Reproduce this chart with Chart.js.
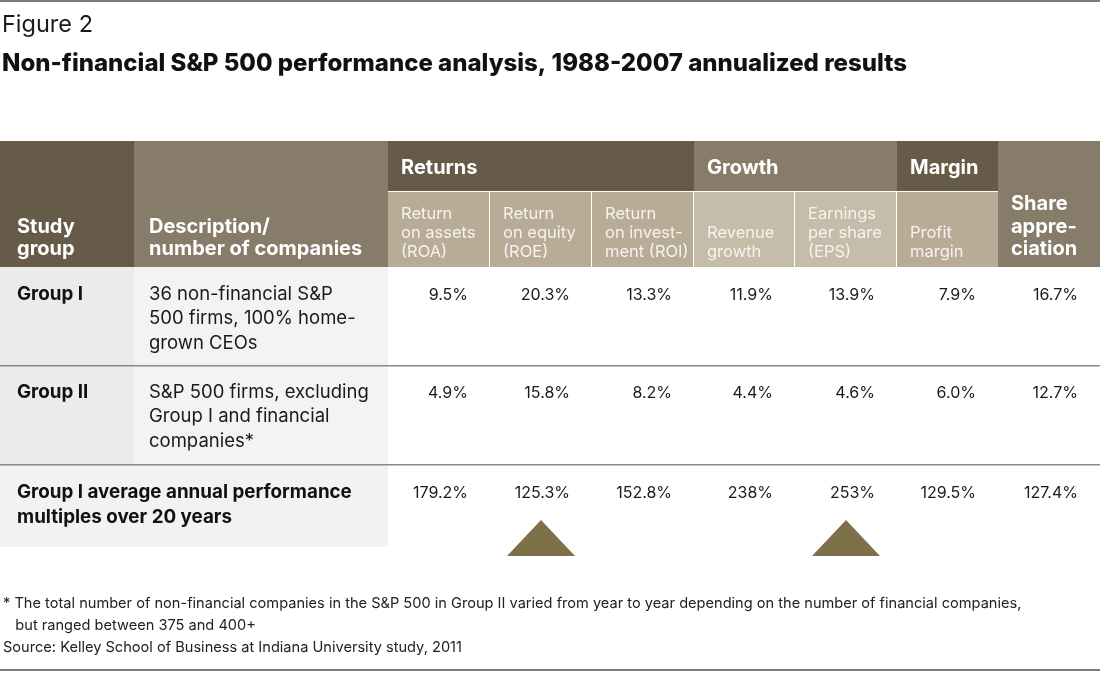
<!DOCTYPE html>
<html>
<head>
<meta charset="utf-8">
<script src="https://cdn.jsdelivr.net/npm/chart.js@4.4.1/dist/chart.umd.min.js"></script>
<style>
  html, body { margin: 0; padding: 0; background: #fff; }
  canvas { display: block; }
</style>
</head>
<body>
<canvas id="tableChart" width="1100" height="673"></canvas>
<script>
// ---- data ----
const figureLabel = "Figure 2";
const figureTitle = "Non-financial S&P 500 performance analysis, 1988-2007 annualized results";
const groupHeads = ["Returns", "Growth", "Margin"];
const metricLabels = [
  ["Return", "on assets", "(ROA)"],
  ["Return", "on equity", "(ROE)"],
  ["Return", "on invest-", "ment (ROI)"],
  ["Revenue", "growth"],
  ["Earnings", "per share", "(EPS)"],
  ["Profit", "margin"],
  ["Share", "appre-", "ciation"],
];
const studyGroups = ["Group I", "Group II"];
const descriptions = [
  ["36 non-financial S&P", "500 firms, 100% home-", "grown CEOs"],
  ["S&P 500 firms, excluding", "Group I and financial", "companies*"],
];
const groupIValues = [9.5, 20.3, 13.3, 11.9, 13.9, 7.9, 16.7];
const groupIIValues = [4.9, 15.8, 8.2, 4.4, 4.6, 6.0, 12.7];
const multiplesLabel = ["Group I average annual performance", "multiples over 20 years"];
const multiples = [179.2, 125.3, 152.8, 238, 253, 129.5, 127.4];
const highlighted = [1, 4]; // ROE, EPS get the arrow
const footnotes = [
  "* The total number of non-financial companies in the S&P 500 in Group II varied from year to year depending on the number of financial companies,",
  "   but ranged between 375 and 400+",
  "Source: Kelley School of Business at Indiana University study, 2011",
];

// ---- layout ----
const W = 1100, H = 673;
const metricEdges = [388, 490, 592, 694, 795, 897, 998, 1100];
const dark = "#655b48", mid = "#877c69", subA = "#b8ac97", subB = "#c6bcaa";
const FONT = "Inter, 'Noto Sans', sans-serif";

// triangle marker as an image point style
const tri = document.createElement("canvas");
tri.width = 68; tri.height = 36;
const tctx = tri.getContext("2d");
tctx.fillStyle = "#7d7149";
tctx.beginPath();
tctx.moveTo(34, 0);
tctx.lineTo(68, 36);
tctx.lineTo(0, 36);
tctx.closePath();
tctx.fill();

function colCenter(i) {
  return (metricEdges[i] + metricEdges[i + 1]) / 2;
}

const tablePlugin = {
  id: "tablePlugin",
  beforeDatasetsDraw(chart) {
    const c = chart.ctx;
    const px = (v) => chart.scales.x.getPixelForValue(v);
    const py = (v) => chart.scales.y.getPixelForValue(v);
    const rect = (x0, y0, x1, y1, col) => {
      c.fillStyle = col;
      c.fillRect(px(x0), py(y0), px(x1) - px(x0), py(y1) - py(y0));
    };
    const text = (s, x, y, font, col, align) => {
      c.font = font;
      c.fillStyle = col;
      c.textAlign = align || "left";
      c.textBaseline = "alphabetic";
      c.fillText(s, px(x), py(y));
    };
    c.save();

    // rules top and bottom
    rect(0, 0, W, 2, "#7a7a7a");
    rect(0, 669, W, 671, "#7a7a7a");

    text(figureLabel, 2, 32, "400 23.5px " + FONT, "#1a1a1a");
    text(figureTitle, 2, 71, "800 24px " + FONT, "#111");

    // header
    const top = 141, mid1 = 191, hb = 267;
    rect(0, top, 134, hb, dark);
    rect(134, top, 388, hb, mid);
    rect(388, top, 694, mid1, dark);
    rect(694, top, 897, mid1, mid);
    rect(897, top, 998, mid1, dark);
    rect(998, top, 1100, hb, mid);
    for (let i = 0; i < 6; i++) {
      const col = (i === 3 || i === 4) ? subB : subA;
      rect(metricEdges[i], mid1 + 1, metricEdges[i + 1] - (i < 5 ? 1 : 0), hb, col);
    }

    const hFont = "700 20px " + FONT;
    text("Study", 17, 233, hFont, "#fff");
    text("group", 17, 255, hFont, "#fff");
    text("Description/", 149, 233, hFont, "#fff");
    text("number of companies", 149, 255, hFont, "#fff");
    const groupStarts = [388, 694, 897];
    groupHeads.forEach((g, i) => text(g, groupStarts[i] + 13, 174, hFont, "#fff"));

    const sFont = "400 16.5px " + FONT;
    for (let i = 0; i < 6; i++) {
      const lines = metricLabels[i];
      lines.forEach((l, k) => {
        const y = 257 - (lines.length - 1 - k) * 19;
        text(l, metricEdges[i] + 13, y, sFont, "#f6f3ee");
      });
    }
    metricLabels[6].forEach((l, k) => text(l, 1011, 210 + k * 22.5, hFont, "#fff"));

    // body
    rect(0, hb, 134, 465, "#ebebeb");
    rect(134, hb, 388, 465, "#f3f3f3");
    rect(0, 465, 388, 547, "#f2f2f2");
    rect(0, 365, W, 366.5, "#8a8a8a");
    rect(0, 464, W, 465.5, "#8a8a8a");

    const bFont = "700 18.8px " + FONT;
    const rFont = "400 18.5px " + FONT;
    const vFont = "400 16px " + FONT;
    const rowY = [300, 398];
    [groupIValues, groupIIValues].forEach((vals, r) => {
      text(studyGroups[r], 17, rowY[r], bFont, "#111");
      descriptions[r].forEach((l, k) => text(l, 149, rowY[r] + k * 24.3, rFont, "#1a1a1a"));
      vals.forEach((v, i) => text(v.toFixed(1) + "%", metricEdges[i + 1] - 22, rowY[r], vFont, "#1a1a1a", "right"));
    });
    multiplesLabel.forEach((l, k) => text(l, 17, 498 + k * 25, bFont, "#111"));
    multiples.forEach((v, i) => text(v + "%", metricEdges[i + 1] - 22, 498, vFont, "#1a1a1a", "right"));

    // footnotes
    const fFont = "400 14.6px " + FONT;
    text(footnotes[0], 3, 608, fFont, "#222");
    text(footnotes[1], 3, 630, fFont, "#222");
    text(footnotes[2], 3, 652, fFont, "#222");

    c.restore();
  },
};

const ctx = document.getElementById("tableChart");
new Chart(ctx, {
  type: "scatter",
  data: {
    datasets: [
      {
        data: highlighted.map((i) => ({ x: colCenter(i), y: 538 })),
        pointStyle: tri,
        pointRadius: 34,
        pointHoverRadius: 34,
      },
    ],
  },
  options: {
    responsive: false,
    animation: false,
    events: [],
    layout: { padding: 0, autoPadding: false },
    scales: {
      x: { type: "linear", min: 0, max: W, display: false },
      y: { type: "linear", min: 0, max: H, reverse: true, display: false },
    },
    plugins: {
      legend: { display: false },
      tooltip: { enabled: false },
    },
  },
  plugins: [tablePlugin],
});
</script>
</body>
</html>
